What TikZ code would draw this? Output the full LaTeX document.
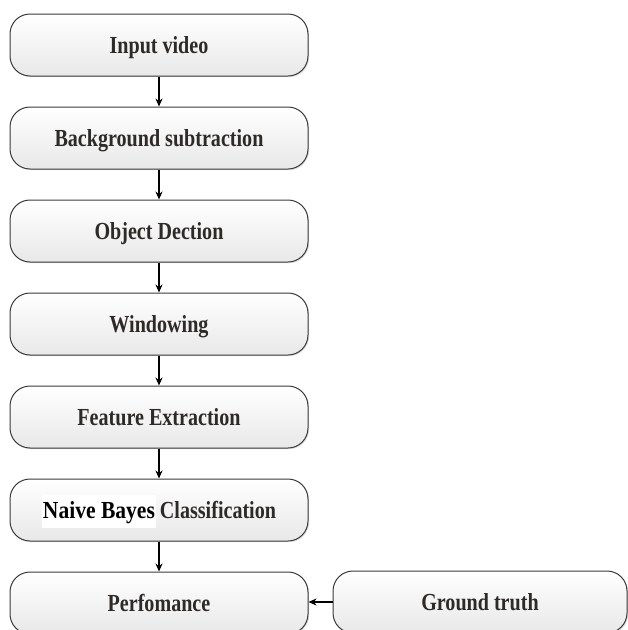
\documentclass[tikz,border=0pt]{standalone}
\usepackage{fontspec}
\newfontfamily\boxfont[FakeStretch=0.82]{Liberation Serif}
\newfontfamily\nbfont[FakeStretch=0.88]{Liberation Serif}
\usetikzlibrary{arrows.meta,shadows}
\definecolor{txt}{HTML}{2E2A28}
\definecolor{edge}{HTML}{3A3A3A}
\tikzset{
  stepbox/.style={rectangle, rounded corners=20pt, draw=edge, line width=1pt,
    top color=white, bottom color=black!9, minimum width=298pt, minimum height=62pt,
    inner sep=0pt, text height=20pt, text depth=3pt,
    font=\boxfont\bfseries\fontsize{24.5}{27}\selectfont, text=txt,
    drop shadow={shadow xshift=1.2pt, shadow yshift=-1.2pt, opacity=0.25}},
  conn/.style={draw=black, line width=1.1pt, -{Stealth[length=8pt,width=7pt]}}
}
\begin{document}
\begin{tikzpicture}[x=1pt,y=-1pt]
\useasboundingbox (0,0) rectangle (628,630);
\node[stepbox] (n1) at (159,45) {Input video};
\node[stepbox] (n2) at (159,138) {Background subtraction};
\node[stepbox] (n3) at (159,231) {Object Dection};
\node[stepbox] (n4) at (159,324) {Windowing};
\node[stepbox] (n5) at (159,417) {Feature Extraction};
\node[stepbox] (n6) at (159,510) {{\setlength\fboxsep{1pt}\colorbox{white}{\nbfont\bfseries\color{black}\rule[-8pt]{0pt}{31pt}Naive Bayes}}\hspace{-1pt} Classification};
\node[stepbox] (n7) at (159,603) {Perfomance};
\node[stepbox, minimum width=294pt] (gt) at (480,602) {Ground truth};
\draw[conn] (n1) -- (n2);
\draw[conn] (n2) -- (n3);
\draw[conn] (n3) -- (n4);
\draw[conn] (n4) -- (n5);
\draw[conn] (n5) -- (n6);
\draw[conn] (n6) -- (n7);
\draw[conn] (gt.west) -- (n7.east |- gt.west);
\end{tikzpicture}
\end{document}
